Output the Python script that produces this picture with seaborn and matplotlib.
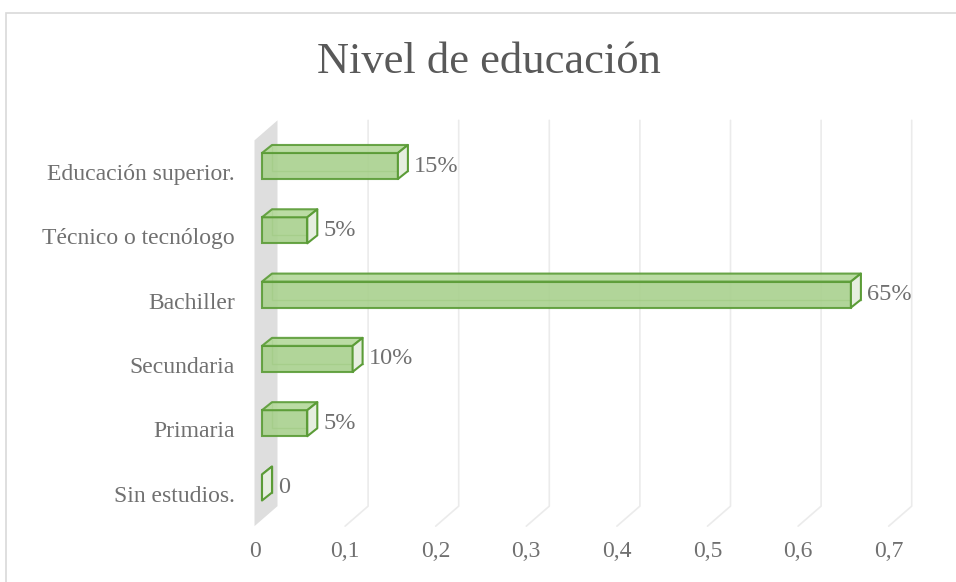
import matplotlib
matplotlib.use("Agg")
import numpy as np
import pandas as pd
import seaborn as sns
import matplotlib.pyplot as plt
from matplotlib.patches import Polygon, Rectangle
from matplotlib.lines import Line2D
from matplotlib.transforms import ScaledTranslation

# ---------------- data ----------------
titulo = "Nivel de educación"
categorias = ["Educación superior.", "Técnico o tecnólogo", "Bachiller",
              "Secundaria", "Primaria", "Sin estudios."]
valores = [0.15, 0.05, 0.65, 0.10, 0.05, 0.0]
etiquetas = ["15%", "5%", "65%", "10%", "5%", "0"]
ticks_x = [0.0, 0.1, 0.2, 0.3, 0.4, 0.5, 0.6, 0.7]
ticks_x_labels = ["0", "0,1", "0,2", "0,3", "0,4", "0,5", "0,6", "0,7"]

# ---------------- style ----------------
sns.set_style("white")
plt.rcParams["font.family"] = ["Liberation Serif", "DejaVu Serif"]
TXT = "#707070"
TITLE = "#595959"
FRONT = "#a9d18e"
TOP = "#b4d99a"
CAP = "#e6eee0"
EDGE = "#5b9c37"
WALL = "#dedede"
GRID = "#ebebeb"

W, H = 956, 582
fig = plt.figure(figsize=(W / 100, H / 100), dpi=100)
fig.patch.set_facecolor("white")

# layout (pixels)
PXU = 906.0      # pixels per unit on x (bar plane)
ROW = 64.3       # pixels per category
X0 = 262.0       # pixel of value 0 (bar front plane)
Y0 = 166.0       # pixel (from top) of first category centre
xmin, xmax = -0.02, 0.75
left_px = X0 + xmin * PXU
right_px = X0 + xmax * PXU
top_px, bottom_px = 100.0, 526.0
ytop = (top_px - Y0) / ROW
ybot = (bottom_px - Y0) / ROW

ax = fig.add_axes([left_px / W, 1 - bottom_px / H,
                   (right_px - left_px) / W, (bottom_px - top_px) / H])

df = pd.DataFrame({"cat": categorias, "val": valores})
sns.barplot(data=df, x="val", y="cat", orient="h", width=0.405,
            color=FRONT, edgecolor=EDGE, linewidth=1.5, saturation=1,
            alpha=0.9, ax=ax, zorder=5)
ax.set_xlim(xmin, xmax)
ax.set_ylim(ybot, ytop)


def off(x, y, dx, dy):
    """shift a data point by dx px right, dy px up"""
    return (x + dx / PXU, y - dy / ROW)


F = (-7.5, -6.5)   # front floor plane
B = (15.5, 13.5)   # back wall plane
D = (10.0, 8.0)    # bar depth

n = len(categorias)
ylo, yhi = -0.5, n - 0.5

# side wall at x = 0
wall = Polygon([off(0, ylo, *F), off(0, ylo, *B), off(0, yhi, *B), off(0, yhi, *F)],
               closed=True, facecolor=WALL, edgecolor="none", zorder=1, clip_on=False)
ax.add_patch(wall)

# gridlines (back wall + floor)
for t in ticks_x[1:]:
    pts = [off(t, ylo, *B), off(t, yhi, *B), off(t, yhi, *F)]
    ax.add_line(Line2D([p[0] for p in pts], [p[1] for p in pts], color=GRID,
                       lw=1.2, zorder=1, clip_on=False))

# 3-D faces for the bars
for p, lab in zip(ax.patches[:n], etiquetas):
    x, y, w, h = p.get_x(), p.get_y(), p.get_width(), p.get_height()
    bl_top = off(x, y, *D)
    bl_bot = off(x, y + h, *D)
    br_bot = off(x + w, y + h, *D)
    ax.add_line(Line2D([bl_top[0], bl_bot[0], br_bot[0]],
                       [bl_top[1], bl_bot[1], br_bot[1]],
                       color=EDGE, lw=1.0, alpha=0.7, zorder=4))
    topf = Polygon([(x, y), (x + w, y), off(x + w, y, *D), off(x, y, *D)],
                   closed=True, facecolor=TOP, edgecolor=EDGE, lw=1.5,
                   alpha=0.9, zorder=6, joinstyle="round")
    cap = Polygon([(x + w, y), (x + w, y + h), off(x + w, y + h, *D), off(x + w, y, *D)],
                  closed=True, facecolor=CAP, edgecolor=EDGE, lw=1.5,
                  zorder=6, joinstyle="round")
    ax.add_patch(topf)
    ax.add_patch(cap)
    ax.text(x + w + 16 / PXU, y + h / 2, lab, ha="left", va="center",
            fontsize=17.5, color=TXT, zorder=7)

# axes cosmetics
for s in ax.spines.values():
    s.set_visible(False)
ax.set_xlabel("")
ax.set_ylabel("")
ax.set_xticks(ticks_x)
ax.set_xticklabels(ticks_x_labels)
ax.tick_params(axis="both", length=0, labelsize=17, labelcolor=TXT)
ax.tick_params(axis="x", pad=11)
ax.tick_params(axis="y", pad=6.4)
shift_x = ScaledTranslation(F[0] / 100, 0, fig.dpi_scale_trans)
for lbl in ax.get_xticklabels():
    lbl.set_transform(lbl.get_transform() + shift_x)
shift_y = ScaledTranslation(0, -6 / 100, fig.dpi_scale_trans)
for lbl in ax.get_yticklabels():
    lbl.set_transform(lbl.get_transform() + shift_y)
ax.grid(False)
ax.set_facecolor("none")

# title
fig.text(488.5 / W, 1 - 73 / H, titulo, ha="center", va="baseline",
         fontsize=32, color=TITLE)

# outer chart border
fig.add_artist(Rectangle((5.5 / W, -0.05), 1.05, 1 - 12.5 / H + 0.05,
                         transform=fig.transFigure, fill=False,
                         edgecolor="#d9d9d9", lw=1.2))

fig.savefig("out.png", dpi=100, facecolor="white")
